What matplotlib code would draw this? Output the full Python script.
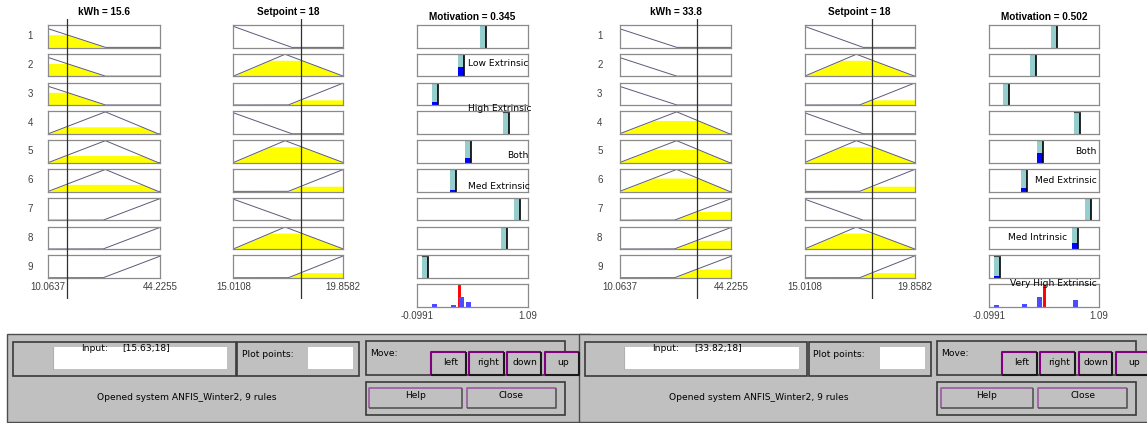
import matplotlib
matplotlib.use("Agg")
import matplotlib.pyplot as plt
from matplotlib.patches import Rectangle
import numpy as np

W, H = 1147, 423

# ---- fuzzy system data -------------------------------------------------
kwh_range = (10.0637, 44.2255)
setpoint_range = (15.0108, 19.8582)
motivation_range = (-0.0991, 1.09)

# triangular membership functions [a, b, c]
kwh_mfs = {"low": [-10.4, 7.0, 27.5],
           "mid": [10.06, 27.5, 43.6],
           "high": [26.8, 44.5, 62.2]}
setpoint_mfs = {"low": [12.5, 14.9, 17.58],
                "mid": [15.01, 17.29, 19.86],
                "high": [17.43, 19.86, 22.3]}

rule_kwh = ["low", "low", "low", "mid", "mid", "mid", "high", "high", "high"]
rule_setpoint = ["low", "mid", "high", "low", "mid", "high", "low", "mid", "high"]
rule_outputs = [0.605, 0.374, 0.091, 0.852, 0.452, 0.287, 0.975, 0.834, -0.013]

# two operating points shown side by side
kwh_inputs = [15.63, 33.82]
setpoint_inputs = [18, 18]
motivation_outputs = [0.345, 0.502]
kwh_titles = ["15.6", "33.8"]
setpoint_titles = ["18", "18"]
input_strings = ["[15.63;18]", "[33.82;18]"]

label_texts = [["Low Extrinsic", "High Extrinsic", "Both", "Med Extrinsic"],
               ["Both", "Med Extrinsic", "Med Intrinsic", "Very High Extrinsic"]]
label_pos = [[(528, 63.3), (531, 108.7), (528, 155.7), (530, 186.7)],
             [(1097, 151.7), (1097, 180.7), (1067, 237.7), (1097, 283.7)]]

# ---- layout (pixels) ---------------------------------------------------
PANEL_SHIFT = 571.3
COL_LEFT = [48.3, 233.3, 417.3]
COL_W = [111.7, 110.0, 110.4]
ROW_TOP0, ROW_PITCH, ROW_H = 25.0, 28.8, 22.6

TITLE_FONT = dict(family="Liberation Sans", fontweight="bold", fontsize=7.2)
TICK_FONT = dict(family="Liberation Sans", fontsize=7.0, color="#404040")
UI_FONT = dict(family="DejaVu Sans", fontsize=6.6, color="black")

MF_LINE = "#5a5a78"
BOX_EDGE = "#8a8a8a"
TEAL = "#96CDCD"
PANEL_GRAY = "#C0C0C0"


def trimf(x, p):
    a, b, c = p
    x = np.asarray(x, float)
    return np.clip(np.minimum((x - a) / (b - a), (c - x) / (c - b)), 0, 1)


def px_rect(x0, y0, w, h):
    return [x0 / W, 1 - (y0 + h) / H, w / W, h / H]


def style_box(ax):
    ax.set_xticks([])
    ax.set_yticks([])
    for s in ax.spines.values():
        s.set_color(BOX_EDGE)
        s.set_linewidth(0.9)


fig = plt.figure(figsize=(W / 100, H / 100), dpi=100)
fig.patch.set_facecolor("white")

ui = fig.add_axes([0, 0, 1, 1], zorder=5)
ui.set_xlim(0, W)
ui.set_ylim(H, 0)
ui.axis("off")
ui.patch.set_alpha(0)

for p in range(2):
    dx = p * PANEL_SHIFT
    inputs = [kwh_inputs[p], setpoint_inputs[p]]
    in_cols = [(kwh_range, kwh_mfs, rule_kwh), (setpoint_range, setpoint_mfs, rule_setpoint)]

    # memberships of the current inputs and rule firing strengths
    mu_k = {k: float(trimf(inputs[0], v)) for k, v in kwh_mfs.items()}
    mu_s = {k: float(trimf(inputs[1], v)) for k, v in setpoint_mfs.items()}
    strengths = [mu_k[a] * mu_s[b] for a, b in zip(rule_kwh, rule_setpoint)]

    # input membership columns
    for c, ((rng, mfs, labels), val) in enumerate(zip(in_cols, inputs)):
        x0 = COL_LEFT[c] + dx
        xs = np.linspace(rng[0], rng[1], 600)
        for r in range(9):
            ax = fig.add_axes(px_rect(x0, ROW_TOP0 + r * ROW_PITCH, COL_W[c], ROW_H), zorder=1)
            mf = mfs[labels[r]]
            y = trimf(xs, mf)
            mu = float(trimf(val, mf))
            ax.fill_between(xs, 0, np.minimum(y, mu), color="#FFFF00", lw=0)
            ax.plot(xs, y, color=MF_LINE, lw=0.7)
            ax.set_xlim(rng)
            ax.set_ylim(-0.01, 1.02)
            style_box(ax)
        # input marker line across the whole column
        axl = fig.add_axes(px_rect(x0, 18.5, COL_W[c], 280), zorder=2)
        axl.set_xlim(rng)
        axl.set_ylim(0, 1)
        axl.axis("off")
        axl.patch.set_alpha(0)
        axl.axvline(val, color="#303030", lw=0.9)
        # range labels
        ui.text(x0, 286.7, f"{rng[0]:g}", ha="center", va="center", **TICK_FONT)
        ui.text(x0 + COL_W[c], 286.7, f"{rng[1]:g}", ha="center", va="center", **TICK_FONT)

    # column titles
    ui.text(COL_LEFT[0] + dx + COL_W[0] / 2, 12.0, f"kWh = {kwh_titles[p]}",
            ha="center", va="center", **TITLE_FONT)
    ui.text(COL_LEFT[1] + dx + COL_W[1] / 2, 12.0, f"Setpoint = {setpoint_titles[p]}",
            ha="center", va="center", **TITLE_FONT)
    ui.text(COL_LEFT[2] + dx + COL_W[2] / 2, 17.5, f"Motivation = {motivation_outputs[p]:g}",
            ha="center", va="center", **TITLE_FONT)

    # rule numbers
    for r in range(9):
        ui.text(30 + dx - (1.5 if p else 0), ROW_TOP0 + r * ROW_PITCH + ROW_H / 2, str(r + 1),
                ha="center", va="center", **TICK_FONT)

    # output column: one box per rule
    ox = COL_LEFT[2] + dx
    span = motivation_range[1] - motivation_range[0]
    bw = 6.0 / COL_W[2] * span
    for r in range(9):
        ax = fig.add_axes(px_rect(ox, ROW_TOP0 + r * ROW_PITCH, COL_W[2], ROW_H), zorder=1)
        v = rule_outputs[r]
        ax.add_patch(Rectangle((v - bw / 2, 0), bw, 1, facecolor=TEAL, edgecolor="none"))
        ax.add_patch(Rectangle((v - bw / 2, 0), bw, strengths[r], facecolor="#0000FF",
                               edgecolor="none"))
        ax.plot([v + bw / 2] * 2, [0, 1], color="black", lw=1.2)
        ax.plot([v - bw / 2, v + bw / 2], [0.99, 0.99], color="#404040", lw=0.8)
        ax.set_xlim(motivation_range)
        ax.set_ylim(0, 1)
        style_box(ax)

    # aggregated output
    ax = fig.add_axes(px_rect(ox, ROW_TOP0 + 9 * ROW_PITCH, COL_W[2], ROW_H), zorder=1)
    ax.axvline(motivation_outputs[p], color="#FF0000", lw=2.1, zorder=2)
    abw = 5.0 / COL_W[2] * span
    for v, s in zip(rule_outputs, strengths):
        if s > 0:
            ax.add_patch(Rectangle((v - abw / 2, 0), abw, s, facecolor="#4B4BFF",
                                   edgecolor="none", zorder=3))
    ax.set_xlim(motivation_range)
    ax.set_ylim(0, 1)
    style_box(ax)
    ui.text(ox, 315.7, f"{motivation_range[0]:g}", ha="center", va="center", **TICK_FONT)
    ui.text(ox + COL_W[2], 315.7, f"{motivation_range[1]:g}", ha="center", va="center", **TICK_FONT)

    # free-standing output labels
    for txt, (tx, ty) in zip(label_texts[p], label_pos[p]):
        ui.text(tx, ty, txt, ha="right", va="center", **UI_FONT)


# ---- control panel below the plots ------------------------------------
def box(x0, y0, x1, y1, face, edge, lw=1.0, z=1):
    ui.add_patch(Rectangle((x0, y0), x1 - x0, y1 - y0, facecolor=face, edgecolor=edge,
                           lw=lw, zorder=z))


def bevel(x0, y0, x1, y1, tl, br, lw=1.4, z=3):
    ui.plot([x0, x0, x1], [y1, y0, y0], color=tl, lw=lw, zorder=z, solid_capstyle="butt")
    ui.plot([x0, x1, x1], [y1, y1, y0], color=br, lw=lw, zorder=z, solid_capstyle="butt")


for p in range(2):
    dx = p * PANEL_SHIFT
    box(7.3 + dx, 334.3, 590 + dx, 422.3, PANEL_GRAY, "#4d4d4d", lw=1.0, z=1 + p)

for p in range(2):
    dx = p * PANEL_SHIFT
    z = 3 + p
    box(13.3 + dx, 341.7, 236 + dx, 375.7, "none", "#3a3a3a", lw=1.2, z=z)
    box(52.7 + dx, 346.7, 227.3 + dx, 369.3, "white", "none", z=z)
    ui.plot([53 + dx, 53 + dx], [346.7, 369.3], color="#b0b0b0", lw=0.8, zorder=z)
    ui.text(80.7 + dx, 348.3, "Input:", ha="left", va="center", zorder=z, **UI_FONT)
    ui.text(122.7 + dx, 348.3, input_strings[p], ha="left", va="center", zorder=z, **UI_FONT)

    box(237.3 + dx, 341.7, 359.3 + dx, 375.7, "none", "#3a3a3a", lw=1.2, z=z)
    box(308.3 + dx, 346.7, 353.3 + dx, 369.3, "white", "none", z=z)
    ui.text(241.7 + dx, 354.3, "Plot points:", ha="left", va="center", zorder=z, **UI_FONT)

    box(366 + dx, 341, 565 + dx, 375, "none", "#3a3a3a", lw=1.2, z=z)
    ui.text(370 + dx, 353.3, "Move:", ha="left", va="center", zorder=z, **UI_FONT)
    for name, (bx0, bx1), tx in zip(["left", "right", "down", "up"],
                                    [(430.7, 466), (469, 504), (507.3, 540.7), (545, 579.3)],
                                    [450.8, 488.0, 524.7, 563.3]):
        box(bx0 + dx, 351.7, bx1 + dx, 375, PANEL_GRAY, "none", z=z)
        bevel(bx0 + dx, 351.7, bx1 + dx, 375, "#800080", "#1a1a1a", lw=1.5, z=z)
        ui.text(tx + dx, 362.7, name, ha="center", va="center", zorder=z, **UI_FONT)

    box(366 + dx, 381.7, 565 + dx, 415, "none", "#3a3a3a", lw=1.2, z=z)
    for name, (bx0, bx1) in zip(["Help", "Close"], [(369.3, 461.7), (466.7, 556)]):
        bevel(bx0 + dx, 388.3, bx1 + dx, 408.3, "#9a5aa0", "#555555", lw=1.2, z=z)
        ui.text((bx0 + bx1) / 2 + dx, 396, name, ha="center", va="center", zorder=z, **UI_FONT)

    ui.text(187 + dx, 397.7, "Opened system ANFIS_Winter2, 9 rules", ha="center", va="center",
            zorder=z, **UI_FONT)

fig.savefig("out.png", dpi=100, facecolor="white")
